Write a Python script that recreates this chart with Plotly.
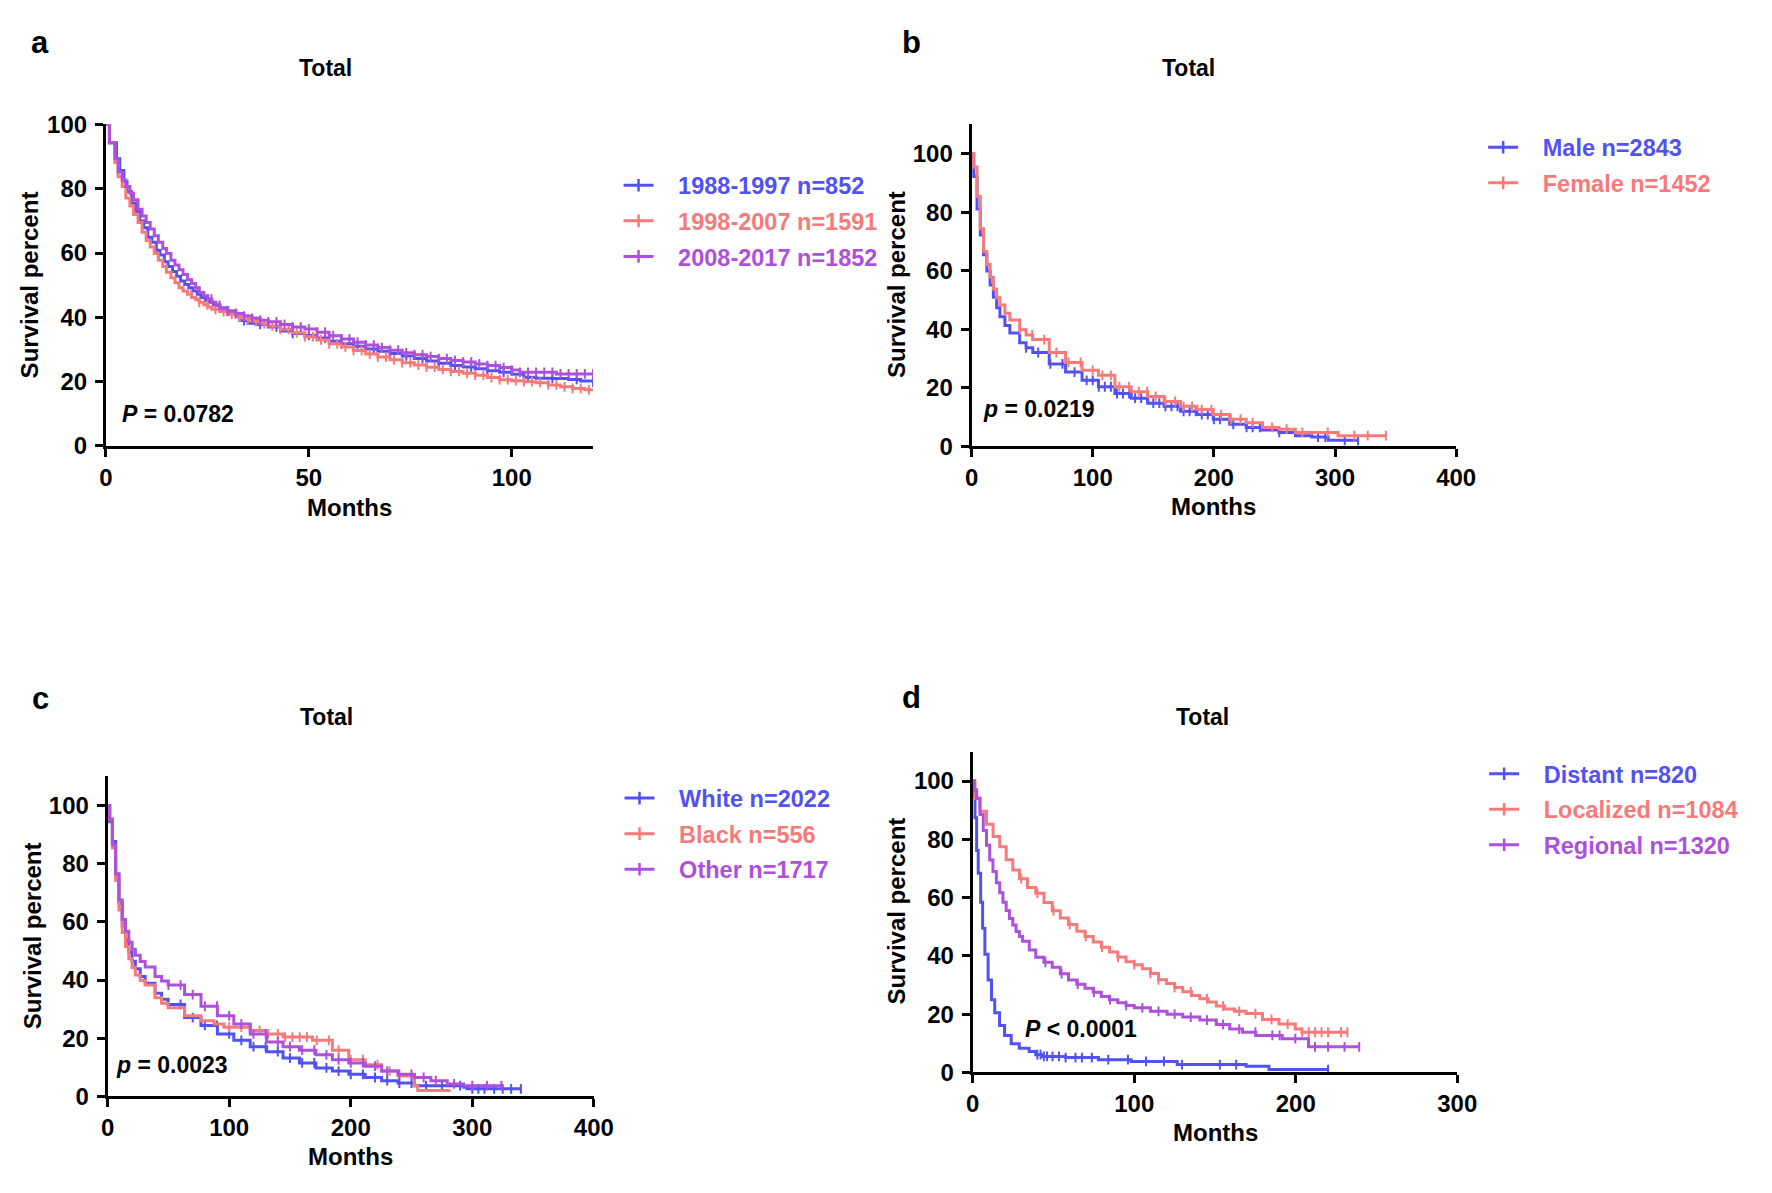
import numpy as np
import plotly.graph_objects as go

W, H = 1772, 1193
FONT = "Liberation Sans, Arial, Helvetica, sans-serif"
BLUE = "#5252F2"
SALMON = "#F77A7A"
PURPLE = "#AD50DC"

# ---- panel a: year of diagnosis ----
a_names = ["1988-1997 n=852", "1998-2007 n=1591", "2008-2017 n=1852"]
a1_t = [0, 0.85, 2.6, 3.4, 4.4, 5.2, 6.3, 7.3, 8.3, 9.3, 10.3, 11.3, 12.4, 13.3, 14.4, 15.3, 16.4,
        17.4, 18.4, 19.4, 20.4, 21.4, 22.5, 23.4, 24.5, 25.5, 26.5, 28, 30, 32, 33, 35, 37, 40, 43,
        46, 49, 52, 55, 58, 61, 64, 67, 70, 73, 76, 79, 82, 85, 88, 91, 94, 97, 100, 103, 106, 110,
        114, 117, 120]
a1_s = [100, 94.3, 89.3, 85.7, 82.2, 79.1, 75.6, 73.0, 70.0, 67.9, 64.9, 63.4, 60.9, 59.4, 57.3, 55.8,
        54.3, 52.8, 51.3, 50.2, 49.2, 48.2, 47.2, 46.2, 45.2, 44.7, 43.9, 43.0, 42.0, 40.5, 39.0, 38.2,
        37.8, 37.0, 35.8, 35.0, 34.4, 33.6, 32.6, 31.8, 31.0, 30.2, 29.5, 28.8, 28.0, 27.2, 26.4, 25.7,
        25.0, 24.6, 24.0, 23.4, 22.9, 22.3, 21.4, 21.1, 21.0, 20.7, 20.2, 19.9]
a2_t = [0, 0.85, 2.2, 3.0, 4.0, 4.9, 5.9, 6.8, 7.9, 8.9, 9.9, 10.9, 11.9, 12.9, 14.0, 14.9, 16.0,
        17.0, 18.0, 19.0, 20.1, 21.1, 22.1, 23.0, 24.1, 25.1, 26.1, 28, 30, 32, 34, 36, 38, 40, 43,
        46, 49, 52, 55, 58, 61, 64, 67, 70, 73, 76, 79, 82, 85, 88, 91, 94, 97, 100, 103, 106, 109,
        112, 115, 118, 120]
a2_s = [100, 94.3, 88.2, 83.7, 80.7, 77.1, 74.6, 72.0, 69.5, 66.5, 63.9, 61.9, 59.9, 57.8, 55.8, 54.0,
        52.3, 50.8, 49.2, 48.2, 47.2, 46.2, 45.5, 44.7, 43.9, 43.2, 42.5, 41.8, 41.0, 40.2, 39.5, 38.8,
        38.0, 37.3, 36.3, 35.2, 34.0, 33.0, 31.8, 30.8, 29.7, 28.6, 27.7, 26.8, 25.9, 25.2, 24.5, 23.8,
        23.2, 22.6, 22.0, 21.3, 20.6, 20.3, 20.0, 19.7, 19.0, 18.4, 17.9, 17.5, 17.3]
a3_t = [0, 0.85, 2.2, 3.0, 4.0, 4.9, 5.9, 6.8, 7.9, 8.9, 9.9, 10.9, 11.9, 12.9, 14.0, 14.9, 16.0,
        17.0, 18.0, 19.0, 20.1, 21.1, 22.1, 23.0, 24.1, 25.1, 26.1, 27.1, 28.1, 30, 32, 34, 36, 38,
        40, 43, 46, 49, 52, 55, 58, 61, 64, 67, 70, 73, 76, 79, 82, 85, 88, 91, 94, 97, 100, 102, 111,
        120]
a3_s = [100, 94.3, 89.3, 85.2, 82.7, 80.7, 78.6, 76.6, 73.6, 71.5, 69.5, 67.5, 65.4, 63.4, 61.4, 59.9,
        57.8, 56.3, 54.8, 53.3, 51.7, 50.5, 49.2, 47.7, 46.7, 45.7, 44.7, 43.7, 42.7, 41.9, 41.2, 40.4,
        39.7, 39.1, 38.6, 37.8, 37.0, 36.4, 35.4, 34.3, 33.3, 32.3, 31.4, 30.6, 29.8, 29.0, 28.4, 27.8,
        27.2, 26.6, 26.1, 25.5, 25.0, 24.4, 23.6, 22.9, 22.4, 22.4]
a1_cens = [30, 34, 38, 42, 46, 50, 54, 58, 62, 66, 70, 74, 78, 82, 86, 90, 94, 98, 104, 110, 116, 120]
a2_cens = [21, 23, 25, 27, 29, 31, 33, 35, 37, 39, 41, 43, 45, 47, 49, 51, 53, 55, 57, 59, 61, 63, 65,
           67, 69, 71, 73, 75, 77, 79, 81, 83, 85, 87, 89, 91, 93, 95, 97, 99, 101, 103, 105, 107,
           109, 111, 113, 115, 117, 119]
a3_cens = [26, 28, 30, 32, 34, 36, 38, 40, 42, 44, 46, 48, 50, 52, 54, 56, 58, 60, 62, 64, 66, 68, 70,
           72, 74, 76, 78, 80, 82, 84, 86, 88, 90, 92, 94, 96, 98, 100, 102, 104, 106, 108, 110, 112,
           114, 116, 118, 120]

# ---- panel b: sex ----
b_names = ["Male n=2843", "Female n=1452"]
b1_t = [0, 1.8, 4.5, 7.2, 9.9, 12.6, 15.3, 18.0, 20.7, 23.4, 27.5, 31.6, 39.7, 45.0, 50.5, 64.1, 77.6,
        91.2, 104.7, 118.3, 131.8, 145.4, 158.9, 172.5, 186.0, 199.5, 213.1, 226.7, 240.2, 253.8, 267.3,
        280.9, 294.4, 318.8]
b1_s = [100, 92.2, 81.1, 72.2, 65.5, 59.9, 55.2, 51.0, 47.4, 44.3, 41.3, 38.8, 35.4, 33.7, 32.1, 28.2,
        25.4, 22.6, 20.4, 18.1, 16.5, 14.8, 13.7, 12.0, 10.9, 9.3, 7.6, 6.5, 5.6, 4.8, 3.7, 3.2, 2.1, 2.1]
b2_t = [0, 1.8, 4.5, 7.2, 9.9, 12.6, 15.3, 18.0, 20.7, 23.4, 27.5, 31.6, 39.7, 45.0, 50.5, 64.1, 77.6,
        91.2, 104.7, 118.3, 131.8, 145.4, 158.9, 172.5, 186.0, 199.5, 213.1, 226.7, 240.2, 253.8, 267.3,
        302.5, 341.8]
b2_s = [100, 95.5, 85.5, 74.4, 66.6, 62.2, 57.8, 53.8, 50.8, 48.3, 45.5, 43.2, 39.9, 38.1, 36.5, 32.1,
        28.7, 26.0, 24.3, 20.4, 18.7, 17.1, 15.4, 13.7, 12.6, 10.9, 9.3, 8.1, 6.5, 5.9, 4.8, 3.7, 3.7]
b1_cens = [45, 55, 65, 75, 85, 95, 100, 105, 110, 115, 120, 125, 130, 135, 140, 145, 150, 155, 160,
           165, 170, 175, 180, 185, 190, 195, 200, 205, 213, 216, 227, 232, 238, 254, 286, 292, 308, 319]
b2_cens = [40, 50, 60, 70, 80, 90, 100, 108, 115, 122, 130, 138, 145, 152, 160, 168, 175, 182, 190,
           198, 206, 214, 222, 232, 248, 260, 273, 294, 316, 327, 342]

# ---- panel c: race ----
c_names = ["White n=2022", "Black n=556", "Other n=1717"]
c1_t = [0, 1.7, 3.9, 6.6, 9.3, 12.0, 14.7, 17.4, 20.1, 22.8, 26.8, 30.9, 39.0, 44.4, 49.8, 63.3, 76.8,
        90.3, 103.8, 117.3, 130.8, 144.3, 157.8, 171.3, 184.9, 198.4, 211.9, 225.4, 238.9, 252.4, 292.9,
        295.6, 340.0]
c1_s = [100, 94.4, 87.6, 76.4, 66.4, 58.5, 53.8, 49.6, 46.5, 43.9, 41.2, 38.9, 35.5, 33.4, 31.6, 27.1,
        24.4, 21.5, 19.3, 17.1, 15.4, 13.2, 11.5, 9.8, 8.7, 7.6, 6.5, 5.4, 4.6, 3.7, 3.2, 2.6, 2.6]
c2_t = [0, 1.7, 3.9, 6.6, 9.3, 12.0, 14.7, 17.4, 20.1, 22.8, 26.8, 30.9, 39.0, 44.4, 49.8, 63.3, 76.8,
        87.6, 95.7, 117.3, 130.8, 144.3, 168.6, 184.9, 198.4, 211.9, 225.4, 238.9, 252.4, 255.1, 282.1]
c2_s = [100, 95.5, 85.4, 74.2, 64.1, 56.3, 51.5, 47.3, 44.3, 41.7, 39.8, 38.3, 33.9, 32.0, 30.5, 27.7,
        26.0, 24.9, 23.8, 22.7, 21.5, 20.4, 19.3, 15.9, 12.6, 10.9, 8.7, 7.0, 3.7, 2.0, 2.0]
c3_t = [0, 1.7, 3.9, 6.6, 9.3, 12.0, 14.7, 17.4, 20.1, 22.8, 26.8, 30.9, 39.0, 44.4, 49.8, 63.3, 76.8,
        90.3, 103.8, 117.3, 130.8, 144.3, 157.8, 171.3, 184.9, 198.4, 211.9, 225.4, 238.9, 252.4, 265.9,
        279.4, 292.9, 323.9]
c3_s = [100, 95.0, 86.5, 76.4, 67.5, 60.8, 56.8, 53.0, 50.6, 48.5, 46.4, 44.5, 41.2, 39.7, 38.3, 35.0,
        31.0, 27.7, 24.9, 21.5, 18.7, 17.1, 15.9, 14.3, 12.6, 11.5, 10.4, 8.7, 7.6, 6.5, 5.4, 4.3, 3.7, 3.7]
c1_cens = [60, 70, 80, 90, 100, 110, 120, 130, 140, 150, 160, 170, 180, 190, 200, 210, 220, 230,
           240, 250, 262, 275, 290, 300, 305, 310, 318, 325, 332, 340]
c2_cens = [100, 110, 118, 125, 132, 140, 146, 152, 158, 164, 172, 182, 190, 200, 210, 222, 232]
c3_cens = [50, 60, 70, 80, 90, 100, 110, 120, 130, 140, 150, 160, 170, 180, 190, 200, 210, 220,
           230, 240, 250, 260, 270, 285, 300, 312, 324]

# ---- panel d: stage ----
d_names = ["Distant n=820", "Localized n=1084", "Regional n=1320"]
d1_t = [0, 0.8, 1.4, 2.4, 3.4, 4.9, 6.1, 7.5, 9.5, 11.6, 13.6, 16.6, 19.7, 23.8, 28.8, 34.9, 39.0,
        43.3, 57.5, 77.8, 98.1, 126.6, 169.2, 183.4, 220.0]
d1_s = [100, 95.0, 87.4, 76.2, 68.4, 58.4, 49.5, 40.6, 31.7, 25.0, 20.5, 16.1, 12.7, 9.9, 8.3, 7.2,
        6.1, 5.5, 5.1, 4.4, 3.8, 2.7, 2.1, 1.0, 1.0]
d2_t = [0, 1.4, 4.4, 8.5, 12.6, 16.7, 20.7, 24.8, 28.9, 33.9, 39.0, 44.1, 49.2, 54.2, 59.3, 64.4, 69.5,
        74.6, 79.6, 84.7, 89.8, 94.9, 100.0, 105.0, 110.0, 115.0, 120.0, 125.0, 130.0, 135.5, 140.6,
        145.7, 150.8, 156.0, 162.0, 169.2, 179.4, 189.6, 199.7, 203.8, 232.2]
d2_s = [100, 94.1, 89.6, 85.2, 81.0, 77.5, 73.0, 69.5, 66.5, 63.5, 61.5, 58.3, 55.5, 53.0, 50.8, 48.5,
        46.7, 44.8, 43.0, 41.3, 39.6, 38.0, 37.0, 35.6, 34.0, 31.8, 30.5, 29.2, 27.7, 26.4, 25.3, 24.2,
        22.8, 21.8, 21.0, 20.2, 18.2, 16.6, 14.9, 13.8, 13.8]
d3_t = [0, 1.0, 2.4, 4.5, 6.5, 8.5, 10.5, 12.5, 14.6, 16.7, 18.7, 20.7, 22.7, 24.8, 26.8, 28.9, 30.9,
        35.0, 39.0, 44.1, 49.2, 54.2, 59.3, 64.4, 69.5, 74.6, 79.6, 84.7, 89.8, 94.9, 100.0, 110.0,
        120.3, 130.0, 140.6, 150.8, 159.1, 167.0, 175.3, 191.6, 207.9, 239.3]
d3_s = [100, 97.0, 94.1, 88.5, 83.0, 78.0, 72.9, 69.0, 65.1, 61.7, 58.4, 55.6, 52.8, 50.6, 48.4, 46.7,
        45.0, 42.0, 39.5, 37.8, 36.1, 33.9, 31.7, 30.3, 28.9, 27.5, 26.1, 25.0, 23.9, 23.0, 22.2, 21.0,
        20.0, 19.0, 18.0, 16.5, 14.9, 13.8, 12.7, 11.6, 8.8, 8.8]
d1_cens = [40, 42, 44, 46, 49.4, 53.4, 57.5, 63.6, 67.6, 73.7, 83.9, 96.1, 107.3, 118.4, 129.6,
           153, 163.1, 220]
d2_cens = [30, 40, 50, 60, 70, 80, 90, 100, 110, 115, 125, 135, 145, 155, 165, 175, 185, 195, 204,
           208, 212, 216, 220, 228, 232]
d3_cens = [45, 55, 65, 75, 85, 95, 105, 115, 125, 135, 145, 155, 165, 175, 185.5, 190, 199.7, 211.9,
           220, 230.2, 239.3]

p_texts = ["<i>P</i> = 0.0782", "<i>p</i> = 0.0219", "<i>p</i> = 0.0023", "<i>P</i> < 0.0001"]
colors = [BLUE, SALMON, PURPLE]

panels = [
    dict(letter="a", names=a_names, curves=[(a1_t, a1_s, a1_cens), (a2_t, a2_s, a2_cens), (a3_t, a3_s, a3_cens)],
         xr=[0, 120], xt=[0, 50, 100], yr=[0, 100],
         box=(100.5, 595, 113, 442), title=(323, 55), months=(348, 505), ylab=(23, 277),
         letter_pos=(34, 29), p_pos=(115, 409), leg=(621, 153)),
    dict(letter="b", names=b_names, curves=[(b1_t, b1_s, b1_cens), (b2_t, b2_s, b2_cens)],
         xr=[0, 400], xt=[0, 100, 200, 300, 400], yr=[0, 110],
         box=(979.5, 1471.6, 113, 442.5), title=(1200, 55), months=(1225, 504), ylab=(903, 277),
         letter_pos=(919, 29), p_pos=(989, 404), leg=(1499, 114)),
    dict(letter="c", names=c_names, curves=[(c1_t, c1_s, c1_cens), (c2_t, c2_s, c2_cens), (c3_t, c3_s, c3_cens)],
         xr=[0, 400], xt=[0, 100, 200, 300, 400], yr=[0, 110],
         box=(102.2, 595.9, 780, 1107.5), title=(324, 719), months=(349, 1169), ylab=(26, 943),
         letter_pos=(34, 700), p_pos=(109, 1075), leg=(622, 780)),
    dict(letter="d", names=d_names, curves=[(d1_t, d1_s, d1_cens), (d2_t, d2_s, d2_cens), (d3_t, d3_s, d3_cens)],
         xr=[0, 300], xt=[0, 100, 200, 300], yr=[0, 110],
         box=(980.7, 1472.7, 755, 1083), title=(1214, 719), months=(1227, 1144), ylab=(903, 918),
         letter_pos=(919, 699), p_pos=(1032, 1039), leg=(1500, 755)),
]


def px(x, y):
    return x / W, 1 - y / H


fig = go.Figure()
annotations = []
layout = {}

axis_style = dict(showline=True, linewidth=3, linecolor="black", mirror=False,
                  ticks="outside", ticklen=8, tickwidth=3, tickcolor="black",
                  showgrid=False, zeroline=False, fixedrange=True,
                  tickfont=dict(family=FONT, size=24, color="black", weight="bold"))

for i, p in enumerate(panels):
    k = "" if i == 0 else str(i + 1)
    xa, ya, lg = "x" + k, "y" + k, "legend" + k
    x0, x1, ytop, ybot = p["box"]
    layout["xaxis" + k] = dict(axis_style, domain=[x0 / W, x1 / W], range=p["xr"], tickvals=p["xt"],
                               anchor=ya, ticklabelstandoff=0)
    layout["yaxis" + k] = dict(axis_style, domain=[1 - ybot / H, 1 - ytop / H], range=p["yr"],
                               tickvals=[0, 20, 40, 60, 80, 100], anchor=xa, ticklabelstandoff=3)
    lx, ly = px(*p["leg"])
    layout[lg] = dict(x=lx, y=ly, xanchor="left", yanchor="top", bgcolor="rgba(0,0,0,0)",
                      font=dict(family=FONT, size=23.5, color="black", weight="bold"),
                      itemwidth=30, tracegroupgap=2, itemclick=False, itemdoubleclick=False)

    for j, (t, s, cens) in enumerate(p["curves"]):
        col = colors[j]
        t_arr, s_arr = np.array(t, float), np.array(s, float)
        c_arr = np.array(cens, float)
        idx = np.searchsorted(t_arr, c_arr, side="right") - 1
        fig.add_trace(go.Scatter(x=t_arr, y=s_arr, mode="lines", line=dict(color=col, width=3, shape="hv"),
                                 xaxis=xa, yaxis=ya, showlegend=False, hoverinfo="skip"))
        fig.add_trace(go.Scatter(x=c_arr, y=s_arr[idx], mode="markers",
                                 marker=dict(symbol="line-ns", size=7, line=dict(width=2, color=col)),
                                 xaxis=xa, yaxis=ya, showlegend=False, hoverinfo="skip"))
        # legend entry: line with censor tick
        fig.add_trace(go.Scatter(x=[None], y=[None], mode="lines+markers", xaxis=xa, yaxis=ya,
                                 line=dict(color=col, width=3),
                                 marker=dict(symbol="line-ns", size=9, line=dict(width=2.5, color=col)),
                                 name='<span style="color:%s">\u00a0\u00a0\u00a0%s</span>' % (col, p["names"][j]),
                                 legend=lg, legendgroup="%s_%d" % (lg, j)))

    bold = dict(family=FONT, color="black", weight="bold")
    tx, ty = px(*p["title"])
    annotations.append(dict(text="Total", x=tx, y=ty, xref="paper", yref="paper", showarrow=False,
                            xanchor="center", yanchor="middle", font=dict(bold, size=23)))
    mx, my = px(*p["months"])
    annotations.append(dict(text="Months", x=mx, y=my, xref="paper", yref="paper", showarrow=False,
                            xanchor="center", yanchor="middle", font=dict(bold, size=24)))
    yx, yy = px(*p["ylab"])
    annotations.append(dict(text="Survival percent", x=yx, y=yy, xref="paper", yref="paper", showarrow=False,
                            textangle=-90, xanchor="center", yanchor="middle", font=dict(bold, size=24)))
    lx2, ly2 = px(*p["letter_pos"])
    annotations.append(dict(text=p["letter"], x=lx2, y=ly2, xref="paper", yref="paper", showarrow=False,
                            xanchor="center", yanchor="middle", font=dict(bold, size=31)))
    pxx, pyy = px(*p["p_pos"])
    annotations.append(dict(text=p_texts[i], x=pxx, y=pyy, xref="paper", yref="paper", showarrow=False,
                            xanchor="left", yanchor="middle", font=dict(bold, size=23)))

fig.update_layout(width=W, height=H, margin=dict(l=0, r=0, t=0, b=0),
                  paper_bgcolor="white", plot_bgcolor="white",
                  annotations=annotations, **layout)

# the page's default body margin would shift the figure by 8 px
fig.write_html("out.html", config={"displayModeBar": False},
               post_script="document.body.style.margin='0';document.body.style.overflow='hidden';")
